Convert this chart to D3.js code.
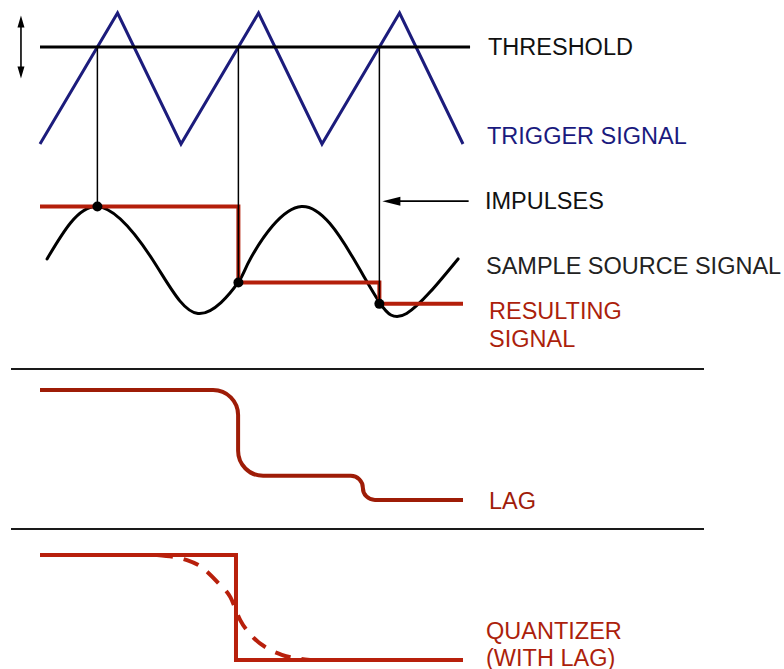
<!DOCTYPE html>
<head>
<meta charset="utf-8">
<title>Sample and Hold</title>
<style>
   body {
		   margin: 0;
		   background: #ffffff;
   }

   .label {
		   font: 23.5px "Liberation Sans", Arial, Helvetica, sans-serif;
   }
</style>
</head>
<body>

<div id="chartDiv"></div>

<script src="https://d3js.org/d3.v7.min.js"></script>
<script>

   //	Data (time in trigger half-cycles, levels normalised)

   var triggerTimes = [0, 1.1, 2, 3.1, 4, 5.1, 6];
   var triggerLevels = [0, 1, 0, 1, 0, 1, 0];
   var thresholdLevel = 0.74;

   var sourceTimes = [0.1, 0.8, 1.6, 2.24, 2.81, 3.0, 3.71, 4.44, 4.82, 5.2, 5.93];
   var sourceLevels = [0.02, 1.0, 0.0, -1.0, -0.42, 0.06, 1.0, 0.04, -0.8, -1.0, 0.02];

   var heldLevels = [1.0, -0.42, -0.82];

   var lagTimes = [0, 2.81, 4.58, 6];
   var lagLevels = [1.0, -0.42, -0.82];

   var quantTimes = [0, 2.78, 6];
   var quantLevels = [1.0, -0.42];

   var lagCurveTimes = [1.66, 2.085, 2.27, 2.52, 2.7, 2.84, 3.02, 3.22, 3.43, 3.83];
   var lagCurveLevels = [1.0, 0.93, 0.85, 0.63, 0.43, 0.12, -0.11, -0.26, -0.35, -0.42];

   var labels = [
	   {text: "THRESHOLD", x: 488, y: 55, color: "#111111"},
	   {text: "TRIGGER SIGNAL", x: 487, y: 144, color: "#1a1a7e"},
	   {text: "IMPULSES", x: 485, y: 209, color: "#111111"},
	   {text: "SAMPLE SOURCE SIGNAL", x: 486, y: 274, color: "#222222"},
	   {text: "RESULTING", x: 489, y: 319, color: "#ac1f0c"},
	   {text: "SIGNAL", x: 489, y: 347, color: "#ac1f0c"},
	   {text: "LAG", x: 489, y: 509, color: "#a01c0a"},
	   {text: "QUANTIZER", x: 486, y: 639, color: "#ac1f0c"},
	   {text: "(WITH LAG)", x: 486, y: 666, color: "#ac1f0c"}
   ];

   //	Chart

   var width = 784, height = 669;
   var svg = d3.select("#chartDiv")
	 .append("svg")
	   .attr("width", width)
	   .attr("height", height)
	   .style("display", "block")
	   .style("background", "#ffffff");

   var x = d3.scaleLinear().domain([0, 6]).range([40, 463]);
   var yTrig = d3.scaleLinear().domain([0, 1]).range([144, 13]);
   var ySrc = d3.scaleLinear().domain([-1, 1]).range([313.5, 206.5]);
   var yLag = d3.scaleLinear().domain([-0.82, 1]).range([500, 390]);
   var yQuant = d3.scaleLinear().domain([-0.42, 1]).range([660, 555]);

   function zip(a, b) { return a.map(function(d, i) { return [d, b[i]]; }); }

   // sample instants = rising crossings of the threshold
   var sampleTimes = [];
   for (var i = 1; i < triggerTimes.length; i++) {
	   var l0 = triggerLevels[i - 1], l1 = triggerLevels[i];
	   if (l0 < thresholdLevel && l1 >= thresholdLevel) {
		   var t0 = triggerTimes[i - 1], t1 = triggerTimes[i];
		   sampleTimes.push(t0 + (thresholdLevel - l0) / (l1 - l0) * (t1 - t0));
	   }
   }

   //	Threshold and trigger

   svg.append("path")
	   .attr("d", d3.line().x(function(d) { return x(d[0]); }).y(function(d) { return yTrig(d[1]); })
		   (zip(triggerTimes, triggerLevels)))
	   .attr("fill", "none")
	   .attr("stroke", "#1c1c7c")
	   .attr("stroke-width", 3);

   svg.append("line")
	   .attr("x1", x(0)).attr("x2", x(6.1))
	   .attr("y1", yTrig(thresholdLevel)).attr("y2", yTrig(thresholdLevel))
	   .attr("stroke", "#000000")
	   .attr("stroke-width", 3);

   // double arrow (adjustable threshold)
   var ax = x(-0.27), aTop = yTrig(thresholdLevel + 0.24), aBot = yTrig(thresholdLevel - 0.24);
   svg.append("line")
	   .attr("x1", ax).attr("x2", ax)
	   .attr("y1", aTop + 8).attr("y2", aBot - 8)
	   .attr("stroke", "#000").attr("stroke-width", 1.6);
   svg.append("path")
	   .attr("d", "M" + ax + "," + aTop + "L" + (ax - 3.5) + "," + (aTop + 12) + "L" + (ax + 3.5) + "," + (aTop + 12) + "Z" +
				  "M" + ax + "," + aBot + "L" + (ax - 3.5) + "," + (aBot - 12) + "L" + (ax + 3.5) + "," + (aBot - 12) + "Z")
	   .attr("fill", "#000");

   //	Source signal and resulting signal

   svg.append("path")
	   .attr("d", d3.line().curve(d3.curveNatural)
		   .x(function(d) { return x(d[0]); }).y(function(d) { return ySrc(d[1]); })
		   (zip(sourceTimes, sourceLevels)))
	   .attr("fill", "none")
	   .attr("stroke", "#000000")
	   .attr("stroke-width", 3)
	   .attr("stroke-linecap", "round");

   var held = [[0, heldLevels[0]], [sampleTimes[1], heldLevels[1]], [sampleTimes[2], heldLevels[2]], [6, heldLevels[2]]];
   svg.append("path")
	   .attr("d", d3.line().curve(d3.curveStepAfter)
		   .x(function(d) { return x(d[0]); }).y(function(d) { return ySrc(d[1]); })(held))
	   .attr("fill", "none")
	   .attr("stroke", "#b41f0b")
	   .attr("stroke-width", 4);

   // impulses
   svg.selectAll(".impulse")
	   .data(sampleTimes)
	   .enter().append("line")
	   .attr("class", "impulse")
	   .attr("x1", function(d) { return x(d); })
	   .attr("x2", function(d) { return x(d); })
	   .attr("y1", yTrig(thresholdLevel))
	   .attr("y2", function(d, i) { return ySrc(heldLevels[i]); })
	   .attr("stroke", "#000")
	   .attr("stroke-width", 1.5);

   svg.selectAll(".dot")
	   .data(sampleTimes)
	   .enter().append("circle")
	   .attr("class", "dot")
	   .attr("cx", function(d) { return x(d); })
	   .attr("cy", function(d, i) { return ySrc(heldLevels[i]); })
	   .attr("r", 5)
	   .attr("fill", "#000");

   // impulses pointer
   var px = x(sampleTimes[2]) + 3, py = ySrc(1.1);
   svg.append("line")
	   .attr("x1", px + 14).attr("x2", x(6.08))
	   .attr("y1", py).attr("y2", py)
	   .attr("stroke", "#000").attr("stroke-width", 1.6);
   svg.append("path")
	   .attr("d", "M" + px + "," + py + "L" + (px + 18) + "," + (py - 4.5) + "L" + (px + 18) + "," + (py + 4.5) + "Z")
	   .attr("fill", "#000");

   //	Separators

   svg.selectAll(".sep")
	   .data([369, 529])
	   .enter().append("line")
	   .attr("class", "sep")
	   .attr("x1", 11).attr("x2", 704)
	   .attr("y1", function(d) { return d; }).attr("y2", function(d) { return d; })
	   .attr("stroke", "#1a1a1a")
	   .attr("stroke-width", 1.8);

   //	Lag

   function roundedStep(pts, r) {
	   var p = d3.path();
	   p.moveTo(pts[0][0], pts[0][1]);
	   for (var i = 1; i < pts.length - 1; i++) {
		   var a = pts[i - 1], b = pts[i], c = pts[i + 1];
		   var rr = Math.min(r, Math.hypot(b[0] - a[0], b[1] - a[1]) / 2, Math.hypot(c[0] - b[0], c[1] - b[1]) / 2);
		   p.arcTo(b[0], b[1], c[0], c[1], rr);
	   }
	   p.lineTo(pts[pts.length - 1][0], pts[pts.length - 1][1]);
	   return p.toString();
   }

   var lagPts = [];
   lagLevels.forEach(function(l, i) {
	   lagPts.push([x(lagTimes[i]), yLag(l)]);
	   lagPts.push([x(lagTimes[i + 1]), yLag(l)]);
   });
   svg.append("path")
	   .attr("d", roundedStep(lagPts, 25))
	   .attr("fill", "none")
	   .attr("stroke", "#9e1c07")
	   .attr("stroke-width", 4);

   //	Quantizer (with lag)

   var qPts = [];
   quantLevels.forEach(function(l, i) {
	   qPts.push([quantTimes[i], l]);
   });
   qPts.push([quantTimes[quantTimes.length - 1], quantLevels[quantLevels.length - 1]]);
   svg.append("path")
	   .attr("d", d3.line().curve(d3.curveStepAfter)
		   .x(function(d) { return x(d[0]); }).y(function(d) { return yQuant(d[1]); })(qPts))
	   .attr("fill", "none")
	   .attr("stroke", "#b8200c")
	   .attr("stroke-width", 4);

   svg.append("path")
	   .attr("d", d3.line().curve(d3.curveMonotoneX)
		   .x(function(d) { return x(d[0]); }).y(function(d) { return yQuant(d[1]); })
		   (zip(lagCurveTimes, lagCurveLevels)))
	   .attr("fill", "none")
	   .attr("stroke", "#b8200c")
	   .attr("stroke-width", 4)
	   .attr("stroke-dasharray", "16,11");

   //	Labels

   svg.selectAll(".label")
	   .data(labels)
	   .enter().append("text")
	   .attr("class", "label")
	   .attr("x", function(d) { return d.x; })
	   .attr("y", function(d) { return d.y; })
	   .attr("fill", function(d) { return d.color; })
	   .text(function(d) { return d.text; });

</script>
</body>
